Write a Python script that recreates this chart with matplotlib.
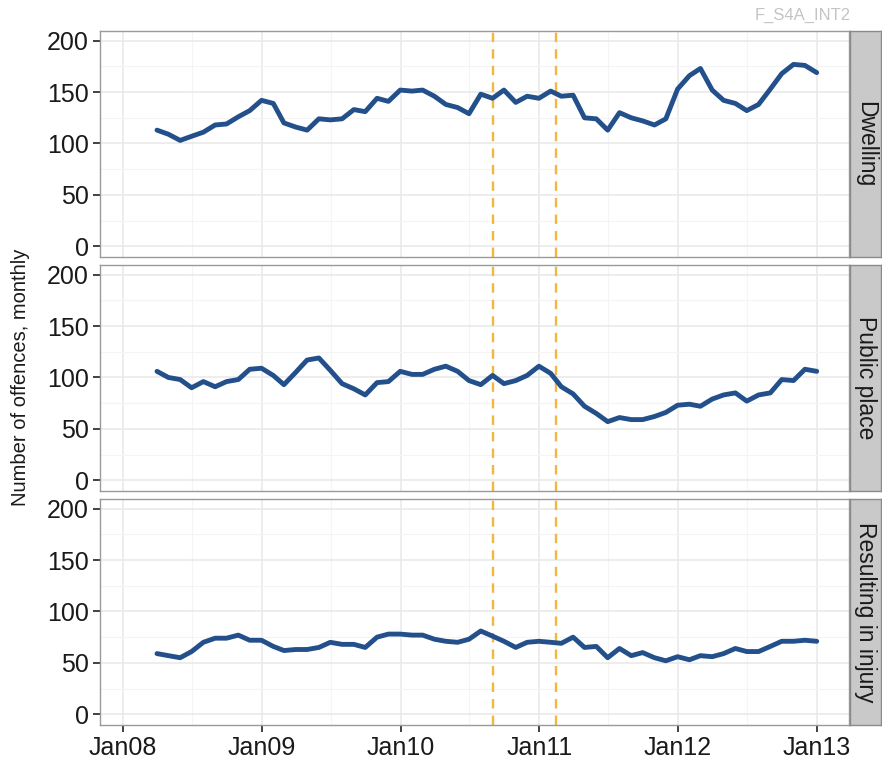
import numpy as np
import pandas as pd
import matplotlib
matplotlib.use('Agg')
import matplotlib.pyplot as plt
import matplotlib.dates as mdates

plt.rcParams['font.family'] = ['Liberation Sans', 'DejaVu Sans']

# === Data: monthly offences, Mar 2008 .. Dec 2012 (month end) ===
dates = pd.date_range('2008-03-31', periods=58, freq='ME')

dwelling = [113, 109, 103, 107, 111, 118, 119, 126, 132,
            142, 139, 120, 116, 113, 124, 123, 124, 133, 131, 144, 141,
            152, 151, 152, 146, 138, 135, 129, 148, 144, 152, 140, 146,
            144, 151, 146, 147, 125, 124, 113, 130, 125, 122, 118, 124,
            153, 166, 173, 152, 142, 139, 132, 138, 153, 168, 177, 176, 169]

public_place = [106, 100, 98, 90, 96, 91, 96, 98, 108,
                109, 102, 93, 105, 117, 119, 107, 94, 89, 83, 95, 96,
                106, 103, 103, 108, 111, 106, 97, 93, 102, 94, 97, 102,
                111, 104, 91, 84, 72, 65, 57, 61, 59, 59, 62, 66,
                73, 74, 72, 79, 83, 85, 77, 83, 85, 98, 97, 108, 106]

injury = [59, 57, 55, 61, 70, 74, 74, 77, 72,
          72, 66, 62, 63, 63, 65, 70, 68, 68, 65, 75, 78,
          78, 77, 77, 73, 71, 70, 73, 81, 76, 71, 65, 70,
          71, 70, 69, 75, 65, 66, 55, 64, 57, 60, 55, 52,
          56, 53, 57, 56, 59, 64, 61, 61, 66, 71, 71, 72, 71]

panels = ['Dwelling', 'Public place', 'Resulting in injury']
series = [dwelling, public_place, injury]
events = ['2010-09-01', '2011-02-15']

LINE_COL = '#23508a'
EVENT_COL = '#f2b73f'

W, H = 882, 770
fig = plt.figure(figsize=(W / 100, H / 100), dpi=100)


def px_box(left, top, right, bottom):
    """Convert pixel box (top-left origin) to figure fractions."""
    return [left / W, 1 - bottom / H, (right - left) / W, (bottom - top) / H]


panel_tops = [31, 265, 499]
panel_h = 226
xmin = pd.Timestamp('2007-11-02')
xmax = pd.Timestamp('2013-03-26')

for i, (name, vals) in enumerate(zip(panels, series)):
    top = panel_tops[i]
    ax = fig.add_axes(px_box(100, top, 849, top + panel_h))
    ax.set_facecolor('white')

    ax.plot(dates, vals, color=LINE_COL, lw=3.5, solid_joinstyle='round',
            solid_capstyle='round', zorder=3)
    for ev in events:
        ax.axvline(pd.Timestamp(ev), color=EVENT_COL, lw=1.7,
                   ls=(0, (4, 3)), zorder=2)

    ax.set_xlim(xmin, xmax)
    ax.set_ylim(-10.5, 209.5)
    ax.set_yticks([0, 50, 100, 150, 200])
    ax.set_yticks([25, 75, 125, 175], minor=True)
    ax.xaxis.set_major_locator(mdates.YearLocator())
    ax.xaxis.set_minor_locator(mdates.MonthLocator(bymonth=7))
    ax.xaxis.set_major_formatter(mdates.DateFormatter('Jan%y'))

    ax.grid(which='major', color='#e8e8e8', lw=1.1, zorder=0)
    ax.grid(which='minor', color='#f4f4f4', lw=0.8, zorder=0)
    ax.set_axisbelow(True)

    for sp in ax.spines.values():
        sp.set_color('#9a9a9a')
        sp.set_linewidth(1.0)

    ax.tick_params(axis='both', which='major', length=5, width=1.3,
                   color='#333333', labelsize=18, labelcolor='#1a1a1a', pad=3)
    ax.tick_params(which='minor', length=0)
    if i < 2:
        ax.tick_params(axis='x', which='both', labelbottom=False, length=0)

    # facet strip on the right
    sax = fig.add_axes(px_box(850, top, 881, top + panel_h))
    sax.set_facecolor('#c9c9c9')
    sax.set_xticks([])
    sax.set_yticks([])
    for sp in sax.spines.values():
        sp.set_color('#8a8a8a')
        sp.set_linewidth(1.0)
    sax.text(0.5, 0.5, name, rotation=-90, ha='center', va='center',
             fontsize=16.5, color='#1a1a1a', transform=sax.transAxes)

fig.text(21 / W, 1 - 377 / H, 'Number of offences, monthly', rotation=90,
         ha='center', va='center', fontsize=14.5, color='#1a1a1a')
fig.text(803 / W, 1 - 15 / H, 'F_S4A_INT2', ha='center', va='center',
         fontsize=12, color='#c4c4c4')

fig.savefig('out.png', dpi=100)
